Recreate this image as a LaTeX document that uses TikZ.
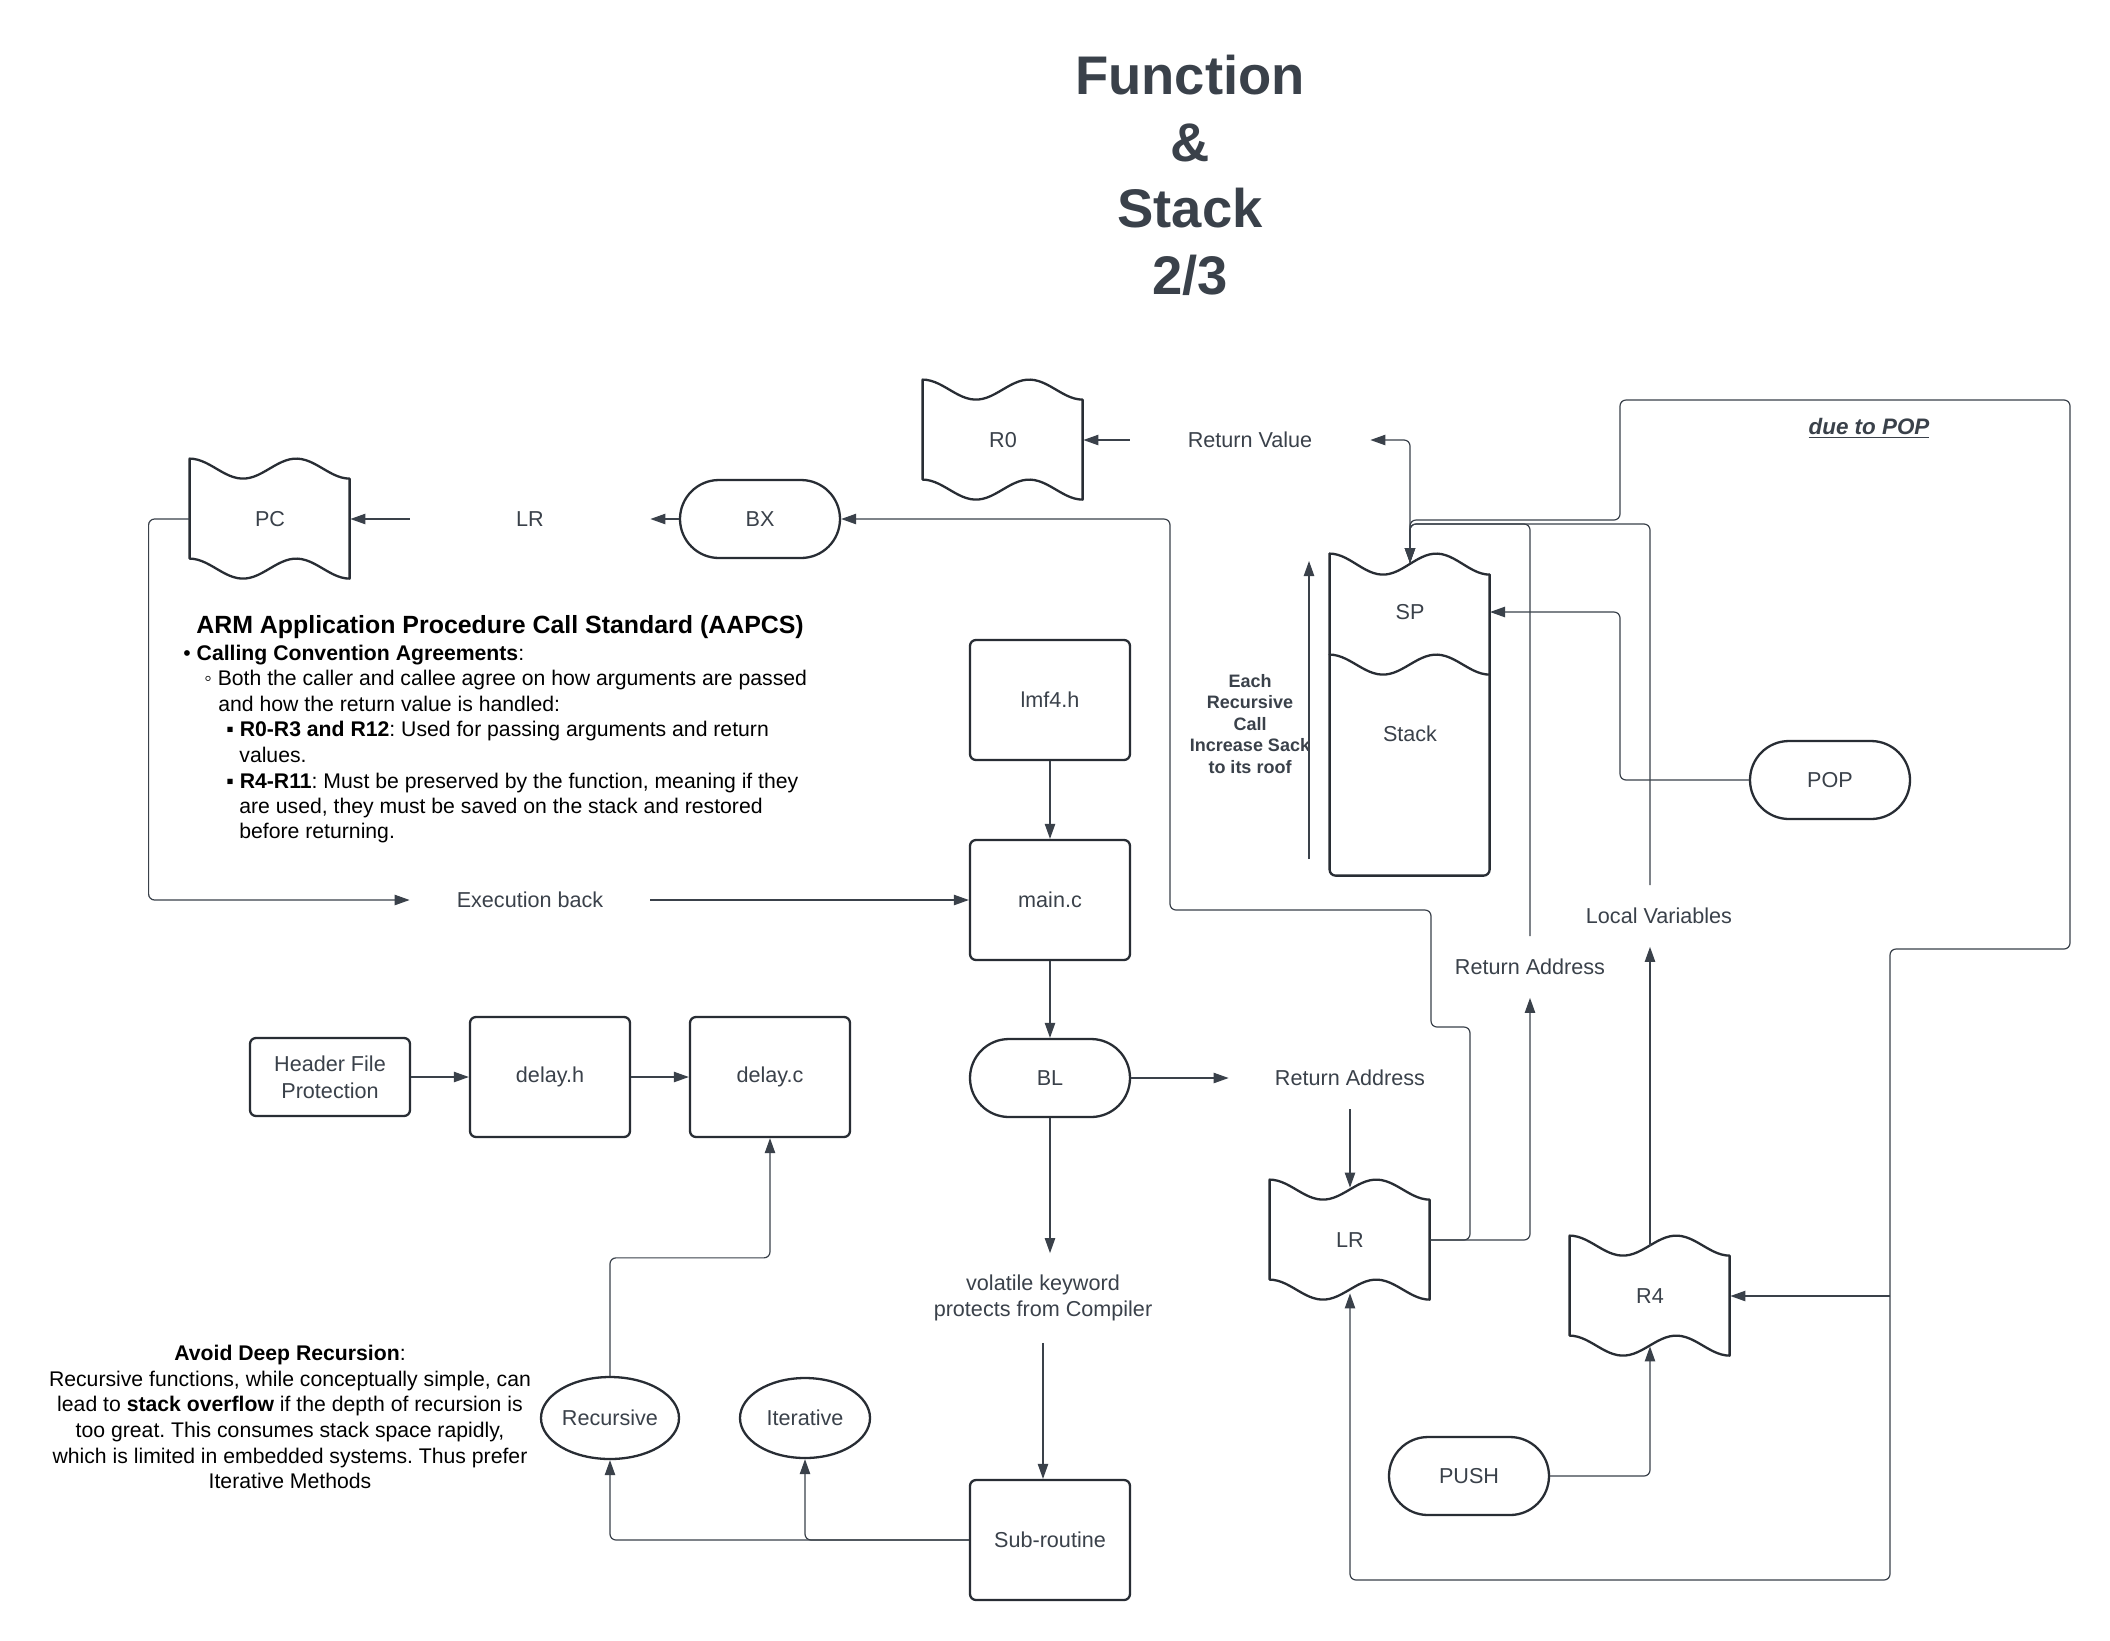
\documentclass[tikz,border=0pt]{standalone}
\usepackage{fontspec}
\setmainfont{Liberation Sans}
\frenchspacing
\usetikzlibrary{arrows.meta,shapes.geometric,calc}
\definecolor{txtcol}{RGB}{58,65,74}
\definecolor{shapecol}{RGB}{40,45,52}
\definecolor{linecol}{RGB}{58,65,74}
\newcommand{\lblfont}{\fontsize{10.8}{13}\selectfont}
\newcommand{\aapfont}{\fontsize{10.6}{12.8}\selectfont}
\newcommand{\tapeshape}[3]{%
  \node[tapebox] (#1) at (#2) {#3};
  \begin{scope}[shift={(#1.north west)}]
    \draw[shp, line join=round] plot[domain=0:160,samples=41] (\x,{10-10*cos(3.375*\x)})
      -- plot[domain=160:0,samples=41] (\x,{110-10*cos(3.375*\x)}) -- cycle;
  \end{scope}}
\begin{document}
\begin{tikzpicture}[x=0.5pt,y=-0.5pt,
  shp/.style={draw=shapecol, line width=1.15pt},
  rbox/.style={shp, rectangle, rounded corners=3pt, minimum width=80pt, minimum height=60pt, inner sep=0pt, font=\lblfont, text=txtcol, align=center},
  term/.style={shp, rectangle, rounded corners=19.5pt, minimum width=80pt, minimum height=39pt, inner sep=0pt, font=\lblfont, text=txtcol},
  ell/.style={shp, ellipse, inner sep=0pt, font=\lblfont, text=txtcol},
  tapebox/.style={rectangle, minimum width=80pt, minimum height=60pt, inner sep=0pt, font=\lblfont, text=txtcol},
  lbl/.style={font=\lblfont, text=txtcol, inner sep=0pt},
  aap/.style={font=\aapfont, text=black, inner sep=0pt},
  conn/.style={draw=linecol, line width=0.6pt, rounded corners=3pt},
  arr/.style={conn, -{Triangle[length=7.5pt,width=5.2pt]}},
]
\fill[white] (0,0) rectangle (2110,1640);
\useasboundingbox (0,0) rectangle (2110,1640);

% title
\node[font=\fontsize{27.2}{33.2}\selectfont\bfseries, text=txtcol, align=center, anchor=north, inner sep=0pt] (title) at (1190,55) {Function\\\&\\Stack\\2/3};

% AAPCS text
\node[aap, anchor=base west] (a1) at (196,633) {\fontsize{12.45}{15}\selectfont\bfseries ARM Application Procedure Call Standard (AAPCS)};
\node[aap, anchor=base west] (a2) at (183,660) {• \textbf{Calling Convention Agreements}:};
\node[aap, anchor=base west] (a3) at (204,685) {◦ Both the caller and callee agree on how arguments are passed};
\node[aap, anchor=base west] (a4) at (218,711) {and how the return value is handled:};
\node[aap, anchor=base west] (a5) at (226,736) {▪ \textbf{R0-R3 and R12}: Used for passing arguments and return};
\node[aap, anchor=base west] (a6) at (239,762) {values.};
\node[aap, anchor=base west] (a7) at (226,788) {▪ \textbf{R4-R11}: Must be preserved by the function, meaning if they};
\node[aap, anchor=base west] (a8) at (239,813) {are used, they must be saved on the stack and restored};
\node[aap, anchor=base west] (a9) at (239,838) {before returning.};

% avoid deep recursion
\node[aap, align=center, anchor=north] (avoid) at (290,1345) {\textbf{Avoid Deep Recursion}:\\Recursive functions, while conceptually simple, can\\lead to \textbf{stack overflow} if the depth of recursion is\\too great. This consumes stack space rapidly,\\which is limited in embedded systems. Thus prefer\\Iterative Methods};

% tapes
\tapeshape{pc}{270,519}{PC}
\tapeshape{r0}{1003,440}{R0}
\tapeshape{lr2}{1350,1240}{LR}
\tapeshape{r4}{1650,1296}{R4}

% stack
\node[tapebox, minimum height=161pt] (stack) at (1410,715) {};
\begin{scope}[shift={(stack.north west)}]
  \draw[shp, line cap=round] plot[domain=0:160,samples=41] (\x,{10.5-10.5*cos(3.375*\x)});
  \draw[shp, line cap=round, rounded corners=3pt] (160,21) -- (160,322) -- (0,322) -- (0,0);
  \draw[shp, line cap=round] plot[domain=0:160,samples=41] (\x,{111-10*cos(3.375*\x)});
\end{scope}
\node[lbl] (sp) at (1410,612) {SP};
\node[lbl] (stk) at (1410,734) {Stack};
\node[font=\fontsize{9}{10.7}\selectfont\bfseries, text=txtcol, align=center, anchor=north, inner sep=0pt] (each) at (1250,674) {Each\\Recursive\\Call\\Increase Sack\\to its roof};
\coordinate (gbot) at (1309,859);
\coordinate (gtop) at (1309,561);
\coordinate (spin) at (1410,563);
\coordinate (speast) at (1490,612);
\coordinate (loopj) at (1890,1296);

% terminators
\node[term] (bx) at (760,519) {BX};
\node[term] (bl) at (1050,1078) {BL};
\node[term] (pop) at (1830,780) {POP};
\node[term] (push) at (1469,1476) {PUSH};

% boxes
\node[rbox] (lmf) at (1050,700) {lmf4.h};
\node[rbox] (main) at (1050,900) {main.c};
\node[rbox] (sub) at (1050,1540) {Sub-routine};
\node[rbox] (dh) at (550,1077) {delay.h};
\node[rbox] (dc) at (770,1077) {delay.c};
\node[rbox, minimum height=39pt, font=\fontsize{10.8}{13.5}\selectfont] (hfp) at (330,1077) {Header File\\Protection};

% ellipses
\node[ell, minimum width=69pt, minimum height=41pt] (rec) at (610,1418) {Recursive};
\node[ell, minimum width=65pt, minimum height=40pt] (it) at (805,1418) {Iterative};

% labels
\node[lbl, minimum width=120pt] (lrtxt) at (530,519) {LR};
\node[lbl, minimum width=120pt] (exec) at (530,900) {Execution back};
\node[lbl, minimum width=120pt] (retval) at (1250,440) {Return Value};
\node[lbl, minimum width=121pt, minimum height=31pt] (ra1) at (1350,1078) {Return Address};
\node[lbl, align=center, minimum height=44.5pt] (vol) at (1043,1298) {volatile keyword\\protects from Compiler};
\node[lbl, minimum height=30.5pt] (ra2) at (1530,967) {Return Address};
\node[lbl, minimum height=30.5pt] (lv) at (1659,916) {Local Variables};
\node[font=\fontsize{11.2}{13}\selectfont\bfseries\itshape, text=txtcol, inner sep=0pt] (due) at (1869,428) {\underline{due to POP}};

% connectors
\draw[arr] (bx.west) -- (lrtxt.east);
\draw[arr] (lrtxt.west) -- (pc.east);
\draw[arr] (pc.west) -- ++(-41,0) |- (exec.west);
\draw[arr] (exec.east) -- (main.west);
\draw[arr] (lmf.south) -- (main.north);
\draw[arr] (main.south) -- (bl.north);
\draw[arr] (bl.south) -- (bl.south |- vol.north);
\draw[arr] (vol.south) -- (vol.south |- sub.north);
\draw[arr] (bl.east) -- (ra1.west);
\draw[arr] (ra1.south) -- ($(lr2.north)+(0,8)$);
\draw[arr] (hfp.east) -- (dh.west);
\draw[arr] (dh.east) -- (dc.west);
\draw[arr] (sub.west) -| (it.south);
\draw[arr] (sub.west) -| (rec.south);
\draw[arr] (rec.north) -- ++(0,-118) -| (dc.south);
\draw[arr] (retval.west) -- (r0.east);
\draw[arr] (spin) -- (1410,440) -- (retval.east);
\draw[arr] (gbot) -- (gtop);
\draw[arr] (pop.west) -- (1620,780) -- (1620,612) -- (speast);
\draw[arr] (lr2.east) -| (ra2.south);
\draw[arr] (lr2.east) -- (1470,1240) -- (1470,1027) -- (1431,1027) -- (1431,910) -- (1170,910) -- (1170,519) -- (bx.east);
\draw[arr] (ra2.north) -- (1530,524) -- (1410,524) -- (spin);
\draw[arr] ($(lv.north)+(-9,0)$) -- (1650,524) -- (1410,524) -- (spin);
\draw[arr] ($(r4.north)+(0,10)$) -- (r4.north |- lv.south);
\draw[arr] (push.east) -| ($(r4.south)+(0,-10)$);
\draw[conn, {Triangle[length=7.5pt,width=5.2pt]}-{Triangle[length=7.5pt,width=5.2pt]}] ($(lr2.south)+(0,-7)$) -- (1350,1580) -- (1890,1580) -- (1890,949) -- (2070,949) -- (2070,400) -- (1620,400) -- (1620,520) -- (1410,520) -- (spin);
\draw[arr] (loopj) -- (r4.east);
\end{tikzpicture}
\end{document}
